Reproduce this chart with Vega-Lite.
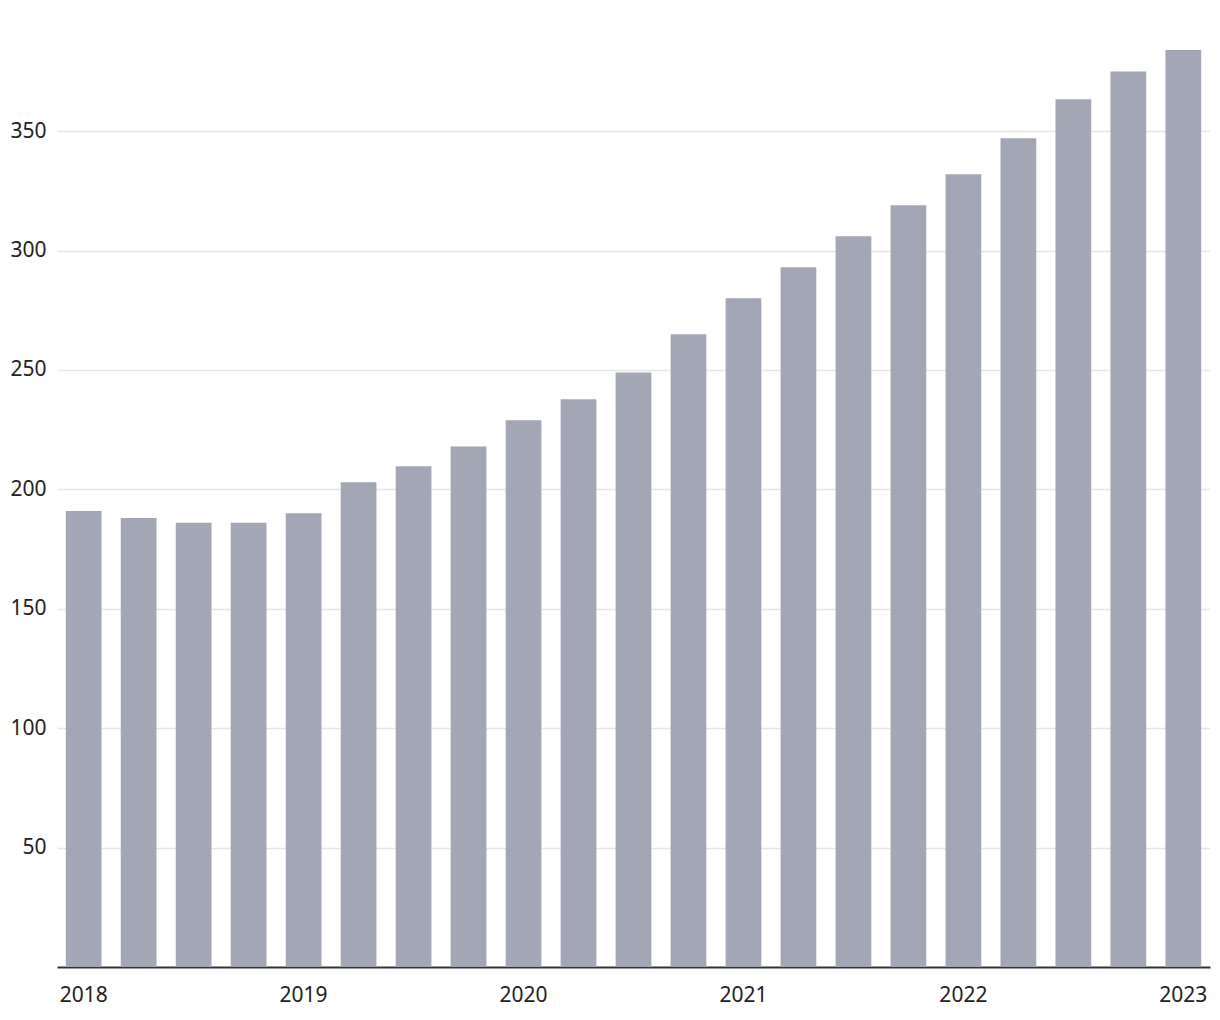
{
  "$schema": "https://vega.github.io/schema/vega-lite/v6.json",
  "autosize": {"type": "none"},
  "padding": {"left": 57, "top": 50, "right": 10, "bottom": 53},
  "width": 1153,
  "height": 917,
  "background": "white",
  "config": {
    "view": {"stroke": null},
    "font": "Noto Sans"
  },
  "data": {
    "values": [
      {"q": "2018-Q1", "v": 191},
      {"q": "2018-Q2", "v": 188},
      {"q": "2018-Q3", "v": 186},
      {"q": "2018-Q4", "v": 186},
      {"q": "2019-Q1", "v": 190},
      {"q": "2019-Q2", "v": 203},
      {"q": "2019-Q3", "v": 209.7},
      {"q": "2019-Q4", "v": 218},
      {"q": "2020-Q1", "v": 229},
      {"q": "2020-Q2", "v": 237.8},
      {"q": "2020-Q3", "v": 249},
      {"q": "2020-Q4", "v": 265},
      {"q": "2021-Q1", "v": 280},
      {"q": "2021-Q2", "v": 293},
      {"q": "2021-Q3", "v": 306},
      {"q": "2021-Q4", "v": 319},
      {"q": "2022-Q1", "v": 332},
      {"q": "2022-Q2", "v": 347},
      {"q": "2022-Q3", "v": 363.4},
      {"q": "2022-Q4", "v": 375},
      {"q": "2023-Q1", "v": 384}
    ]
  },
  "mark": {"type": "bar", "color": "#a3a6b4"},
  "encoding": {
    "x": {
      "field": "q",
      "type": "ordinal",
      "sort": null,
      "scale": {"paddingInner": 0.35, "paddingOuter": 0.16},
      "axis": {
        "title": null,
        "labelAngle": 0,
        "labelExpr": "slice(datum.value, 5) == 'Q1' ? slice(datum.value, 0, 4) : ''",
        "ticks": false,
        "domain": true,
        "domainColor": "#333333",
        "domainWidth": 2,
        "labelFontSize": 21,
        "labelColor": "#222222",
        "labelPadding": 17
      }
    },
    "y": {
      "field": "v",
      "type": "quantitative",
      "scale": {"domain": [0, 384], "nice": false},
      "axis": {
        "title": null,
        "values": [50, 100, 150, 200, 250, 300, 350],
        "ticks": false,
        "domain": false,
        "grid": true,
        "gridColor": "#e6e6e6",
        "gridWidth": 1.5,
        "labelFontSize": 21,
        "labelColor": "#222222",
        "labelPadding": 11
      }
    }
  }
}
